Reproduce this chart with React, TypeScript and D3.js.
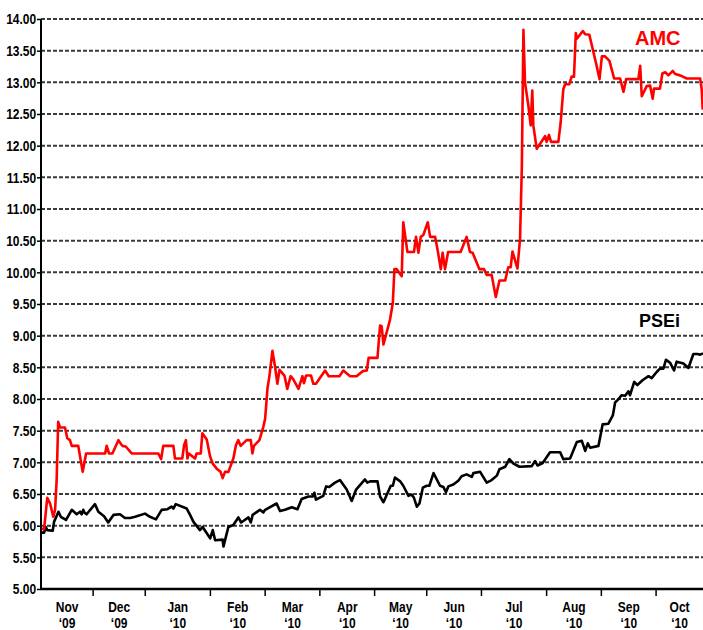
import React, { useRef, useEffect } from 'react'
import * as d3 from 'd3'

// x positions are trading-day indexes counted from the left edge of the axis
const months = ['Nov', 'Dec', 'Jan', 'Feb', 'Mar', 'Apr', 'May', 'Jun', 'Jul', 'Aug', 'Sep', 'Oct']
const years = ['‘09', '‘09', '‘10', '‘10', '‘10', '‘10', '‘10', '‘10', '‘10', '‘10', '‘10', '‘10']
const monthBounds = [0, 20, 40, 65, 86, 107, 128, 148, 169, 194, 215, 236, 254]

const yTicks = [5, 5.5, 6, 6.5, 7, 7.5, 8, 8.5, 9, 9.5, 10, 10.5, 11, 11.5, 12, 12.5, 13, 13.5, 14]

const amc: [number, number][] = [
  [0.3, 5.95], [1.2, 5.95], [2.4, 6.44], [3.5, 6.35], [4.7, 6.14], [5.4, 6.25], [6.0, 6.72],
  [6.6, 7.64], [7.3, 7.55], [9.2, 7.55], [10.1, 7.38], [11.1, 7.35], [11.8, 7.26], [14.3, 7.26],
  [15.2, 7.04], [16.0, 6.85], [17.3, 7.14], [24.6, 7.14], [25.2, 7.26], [26.1, 7.14], [27.4, 7.14],
  [29.7, 7.35], [31.2, 7.26], [32.5, 7.25], [34.8, 7.14], [45.0, 7.14], [46.1, 7.05], [46.9, 7.26],
  [50.8, 7.26], [51.4, 7.06], [54.2, 7.06], [54.9, 7.27], [55.6, 7.35], [56.2, 7.06], [56.7, 7.14],
  [59.1, 7.06], [59.7, 7.14], [61.3, 7.14], [61.9, 7.46], [63.6, 7.36], [64.9, 7.09], [65.9, 6.98],
  [67.4, 6.9], [68.9, 6.85], [69.7, 6.75], [70.6, 6.85], [71.9, 6.85], [73.8, 7.06], [74.8, 7.27],
  [75.7, 7.35], [76.6, 7.26], [78.9, 7.35], [80.5, 7.35], [81.1, 7.14], [81.7, 7.26], [83.8, 7.35],
  [85.3, 7.56], [86.0, 7.69], [86.9, 8.17], [87.6, 8.35], [88.8, 8.76], [89.8, 8.51], [90.7, 8.24],
  [91.5, 8.46], [93.4, 8.37], [94.5, 8.16], [95.8, 8.36], [96.8, 8.31], [98.8, 8.16], [100.3, 8.36],
  [100.9, 8.25], [101.7, 8.37], [103.6, 8.37], [104.5, 8.24], [105.5, 8.24], [109.0, 8.45],
  [110.4, 8.36], [114.5, 8.36], [116.0, 8.45], [118.6, 8.36], [121.1, 8.36], [123.4, 8.44],
  [125.0, 8.45], [125.7, 8.65], [129.1, 8.65], [130.1, 9.16], [130.7, 9.15], [131.4, 8.86],
  [133.9, 9.25], [135.0, 9.52], [135.6, 10.05], [136.5, 10.05], [138.4, 9.94], [139.0, 10.79],
  [140.6, 10.32], [143.1, 10.32], [143.9, 10.56], [144.8, 10.31], [145.7, 10.56], [146.7, 10.59],
  [148.4, 10.79], [149.3, 10.56], [151.2, 10.56], [152.1, 10.37], [153.4, 10.05], [154.1, 10.31],
  [155.0, 10.05], [156.2, 10.32], [161.0, 10.32], [163.3, 10.56], [164.6, 10.32], [165.6, 10.31],
  [168.2, 10.05], [170.0, 10.05], [171.0, 9.96], [172.9, 9.96], [174.5, 9.61], [175.9, 9.87],
  [178.1, 9.87], [179.3, 10.08], [180.2, 10.08], [180.9, 10.33], [182.8, 10.06], [183.8, 10.53],
  [184.5, 11.68], [185.1, 13.83], [185.7, 13.0], [187.0, 12.63], [187.9, 12.32], [188.5, 12.87],
  [188.9, 12.32], [190.2, 11.95], [193.4, 12.15], [194.0, 12.06], [194.9, 12.17], [195.7, 12.06],
  [198.5, 12.06], [199.4, 12.37], [200.4, 12.89], [201.1, 12.97], [202.7, 12.97], [203.6, 13.09],
  [204.5, 13.09], [205.2, 13.78], [205.6, 13.69], [206.2, 13.72], [207.9, 13.81], [208.8, 13.76],
  [210.4, 13.75], [212.0, 13.47], [213.2, 13.26], [214.3, 13.05], [215.2, 13.41], [216.4, 13.41],
  [218.1, 13.34], [219.9, 13.06], [222.2, 13.06], [223.5, 12.85], [224.5, 13.05], [229.2, 13.05],
  [229.9, 13.26], [230.5, 12.78], [232.4, 12.94], [233.7, 12.95], [234.7, 12.74], [235.2, 12.9],
  [237.5, 12.9], [238.4, 13.14], [239.5, 13.16], [240.7, 13.11], [242.4, 13.18], [243.3, 13.13],
  [245.2, 13.11], [247.8, 13.06], [252.9, 13.06], [253.5, 12.89], [253.9, 12.57]
]

const psei: [number, number][] = [
  [0.3, 5.89], [1.2, 5.89], [1.8, 5.98], [2.4, 5.93], [4.5, 5.92], [5.0, 6.06], [6.7, 6.22],
  [7.6, 6.14], [9.6, 6.09], [11.8, 6.25], [13.7, 6.18], [15.0, 6.22], [15.6, 6.18], [16.2, 6.25],
  [16.6, 6.21], [17.5, 6.18], [20.7, 6.34], [22.0, 6.22], [24.2, 6.15], [25.8, 6.05], [27.8, 6.17],
  [30.3, 6.18], [32.2, 6.12], [34.2, 6.12], [36.1, 6.14], [39.9, 6.19], [41.8, 6.14], [44.1, 6.1],
  [46.3, 6.25], [48.5, 6.26], [50.1, 6.3], [50.8, 6.27], [51.7, 6.34], [55.9, 6.27], [57.2, 6.17],
  [58.5, 6.06], [61.0, 5.93], [62.0, 5.98], [64.9, 5.8], [65.9, 5.93], [66.8, 5.77], [69.7, 5.78],
  [70.0, 5.67], [71.9, 5.98], [73.8, 6.01], [75.7, 6.13], [76.8, 6.05], [79.6, 6.13], [80.5, 6.05],
  [81.2, 6.17], [84.0, 6.25], [85.3, 6.21], [86.0, 6.25], [90.4, 6.35], [91.5, 6.25], [91.7, 6.23],
  [93.6, 6.25], [96.2, 6.29], [98.4, 6.26], [100.0, 6.42], [102.6, 6.46], [104.3, 6.46],
  [104.9, 6.52], [105.5, 6.41], [108.3, 6.47], [109.4, 6.62], [110.6, 6.61], [112.8, 6.68],
  [114.7, 6.72], [117.3, 6.57], [119.2, 6.39], [120.9, 6.57], [124.3, 6.73], [125.2, 6.68],
  [126.3, 6.7], [129.1, 6.7], [130.1, 6.46], [131.4, 6.37], [134.2, 6.63], [135.0, 6.63],
  [135.8, 6.76], [137.8, 6.7], [139.0, 6.63], [141.0, 6.47], [142.2, 6.49], [143.1, 6.44],
  [144.2, 6.3], [145.2, 6.35], [146.5, 6.6], [148.0, 6.63], [149.0, 6.63], [150.6, 6.83],
  [153.1, 6.63], [154.4, 6.61], [155.4, 6.53], [156.3, 6.62], [158.2, 6.65], [160.1, 6.71],
  [161.4, 6.78], [163.3, 6.81], [165.3, 6.77], [165.9, 6.83], [168.5, 6.85], [171.0, 6.68],
  [172.9, 6.72], [174.9, 6.79], [175.9, 6.89], [178.1, 6.93], [179.7, 7.05], [181.3, 6.98],
  [183.6, 6.93], [188.3, 6.94], [189.6, 7.02], [190.5, 6.95], [192.5, 6.99], [195.3, 7.16],
  [199.2, 7.16], [200.4, 7.05], [203.0, 7.06], [205.6, 7.32], [207.5, 7.34], [208.8, 7.18],
  [209.8, 7.3], [210.7, 7.23], [213.9, 7.26], [215.5, 7.6], [217.7, 7.61], [219.4, 7.74],
  [220.3, 7.95], [221.2, 7.98], [222.8, 8.06], [224.1, 8.05], [225.4, 8.12], [226.0, 8.06],
  [227.6, 8.27], [228.8, 8.22], [230.9, 8.3], [233.1, 8.36], [234.3, 8.33], [236.3, 8.43],
  [237.5, 8.48], [238.8, 8.48], [239.8, 8.62], [241.4, 8.57], [242.9, 8.45], [243.9, 8.59],
  [246.5, 8.56], [248.4, 8.49], [250.3, 8.71], [251.9, 8.71], [252.9, 8.7], [254.0, 8.72]
]

const font = '"Liberation Sans", Arial, sans-serif'
// no narrow face is installed, so the axis labels are squeezed sideways
const squeeze = 0.8

const App: React.FC = () => {
  const svgRef = useRef<SVGSVGElement | null>(null)
  const width = 703
  const height = 630
  const margin = { top: 19, right: 0, bottom: 41, left: 41 }

  useEffect(() => {
    if (!svgRef.current) return
    const svg = d3.select(svgRef.current)
    svg.selectAll('*').remove()

    const x = d3.scaleLinear()
      .domain([monthBounds[0], monthBounds[monthBounds.length - 1]])
      .range([margin.left, width - margin.right])
    const y = d3.scaleLinear()
      .domain([5, 14])
      .range([height - margin.bottom, margin.top])

    // dashed gridlines
    svg.append('g')
      .selectAll('line')
      .data(yTicks.filter(d => d > 5))
      .join('line')
      .attr('x1', x(0))
      .attr('x2', width)
      .attr('y1', d => y(d))
      .attr('y2', d => y(d))
      .attr('stroke', '#3a3a3a')
      .attr('stroke-width', 2)
      .attr('stroke-dasharray', '4,2')

    // y axis
    const yAxis = svg.append('g')
      .attr('transform', `translate(${x(0)},0)`)
      .call(d3.axisLeft(y).tickValues(yTicks).tickFormat(d3.format('.2f')).tickSize(4).tickPadding(2))
    yAxis.select('.domain').remove()
    yAxis.selectAll('line').attr('stroke', '#000').attr('stroke-width', 1.5)
    yAxis.selectAll('text')
      .attr('font-family', font)
      .attr('font-size', 15)
      .attr('font-weight', 'bold')
      .attr('fill', '#000')
      .attr('transform', `scale(${squeeze},1)`)

    svg.append('line')
      .attr('x1', x(0)).attr('x2', x(0))
      .attr('y1', y(14)).attr('y2', y(5) + 1)
      .attr('stroke', '#000').attr('stroke-width', 2)

    // x axis
    svg.append('line')
      .attr('x1', x(0)).attr('x2', width)
      .attr('y1', y(5)).attr('y2', y(5))
      .attr('stroke', '#000').attr('stroke-width', 2.5)

    svg.append('g')
      .selectAll('line')
      .data(monthBounds.slice(1, -1))
      .join('line')
      .attr('x1', d => x(d)).attr('x2', d => x(d))
      .attr('y1', y(5)).attr('y2', y(5) + 7)
      .attr('stroke', '#000').attr('stroke-width', 1.5)

    const labels = svg.append('g')
      .attr('font-family', font)
      .attr('font-size', 15)
      .attr('font-weight', 'bold')
      .attr('text-anchor', 'middle')
    months.forEach((m, i) => {
      const cx = x((monthBounds[i] + monthBounds[i + 1]) / 2)
      labels.append('text')
        .attr('transform', `translate(${cx},612) scale(${squeeze},1)`)
        .text(m)
      labels.append('text')
        .attr('transform', `translate(${cx},628) scale(${squeeze},1)`)
        .text(years[i])
    })

    // series
    const line = d3.line<[number, number]>()
      .x(d => x(d[0]))
      .y(d => y(d[1]))

    svg.append('path')
      .datum(psei)
      .attr('fill', 'none')
      .attr('stroke', '#000')
      .attr('stroke-width', 2.6)
      .attr('stroke-linejoin', 'round')
      .attr('d', line)

    svg.append('path')
      .datum(amc)
      .attr('fill', 'none')
      .attr('stroke', '#ff0000')
      .attr('stroke-width', 2.6)
      .attr('stroke-linejoin', 'round')
      .attr('d', line)

    // series labels
    svg.append('text')
      .attr('x', 635).attr('y', 45)
      .attr('font-family', font).attr('font-size', 20).attr('font-weight', 'bold')
      .attr('fill', '#ff0000')
      .text('AMC')

    svg.append('text')
      .attr('x', 639).attr('y', 327)
      .attr('font-family', font).attr('font-size', 18).attr('font-weight', 'bold')
      .attr('fill', '#000')
      .text('PSEi')
  }, [])

  return (
    <svg
      ref={svgRef}
      width={width}
      height={height}
      style={{ position: 'absolute', left: 0, top: 0, background: '#fff' }}
    />
  )
}

export default App
